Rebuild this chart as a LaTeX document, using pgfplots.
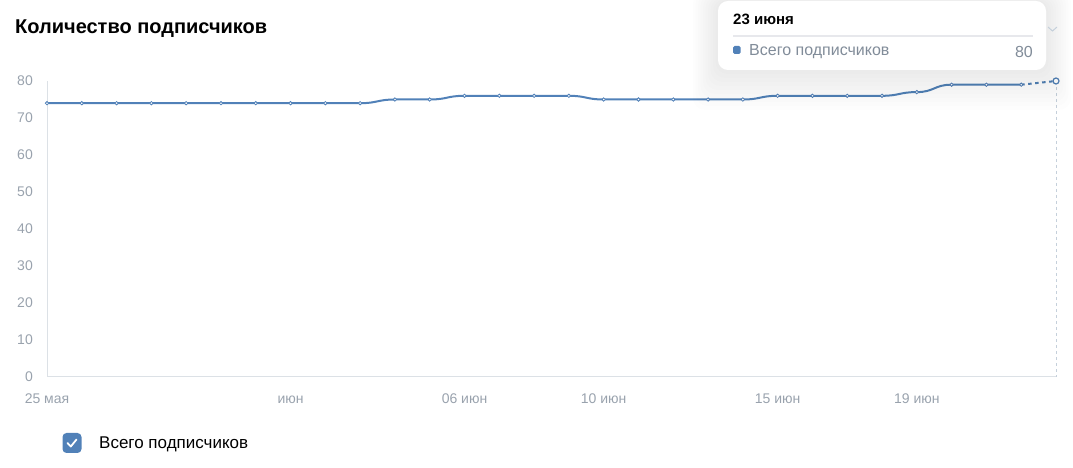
\documentclass[border=0pt]{standalone}
\usepackage{pgfplots}
\pgfplotsset{compat=1.18}
\usepackage{fontspec}
\setmainfont{Liberation Sans}
\definecolor{vkblue}{HTML}{5181B8}
\definecolor{tickgray}{HTML}{99A2AD}
\definecolor{axisgray}{HTML}{DCE1E6}
\definecolor{tipgray}{HTML}{818C99}
\definecolor{sepgray}{HTML}{E7E8EC}
\definecolor{cursorgray}{HTML}{C5D0DB}

\makeatletter
\newif\ifhs@first
\def\hs@point#1{%
  \pgf@process{#1}%
  \edef\hs@x{\the\pgf@x}\edef\hs@y{\the\pgf@y}%
  \ifhs@first
    \pgfpathmoveto{\pgfqpoint{\hs@x}{\hs@y}}%
    \global\hs@firstfalse
  \else
    \edef\hs@half{\the\dimexpr(\hs@x-\hs@lastx)/2\relax}%
    \edef\hs@ca{\the\dimexpr\hs@lastx+\hs@half\relax}%
    \edef\hs@cb{\the\dimexpr\hs@x-\hs@half\relax}%
    \pgfpathcurveto{\pgfqpoint{\hs@ca}{\hs@lasty}}{\pgfqpoint{\hs@cb}{\hs@y}}{\pgfqpoint{\hs@x}{\hs@y}}%
  \fi
  \global\let\hs@lastx\hs@x
  \global\let\hs@lasty\hs@y
}
\pgfdeclareplothandler{\pgfplothandlerhsmooth}{}{%
  start={\global\hs@firsttrue},
  point macro=\hs@point,
  jump={\global\hs@firsttrue},
  end={}%
}
\tikzset{hsmooth/.code={\let\tikz@plot@handler=\pgfplothandlerhsmooth}}
\makeatother

\pgfplotstableread{
day val
0 74
1 74
2 74
3 74
4 74
5 74
6 74
7 74
8 74
9 74
10 75
11 75
12 76
13 76
14 76
15 76
16 75
17 75
18 75
19 75
20 75
21 76
22 76
23 76
24 76
25 77
26 79
27 79
28 79
}\solidtable
\pgfplotstableread{
day val
28 79
29 80
}\dashtable

\begin{document}
\begin{tikzpicture}[x=1pt,y=1pt]
\path[use as bounding box] (0,0) rectangle (1073,468);
% title
\node[anchor=west, inner sep=0pt, font=\fontsize{20}{23}\selectfont\bfseries] at (15,439) {Количество подписчиков};
\begin{axis}[
  at={(47pt,91pt)}, anchor=origin,
  scale only axis, width=1009pt, height=296pt,
  xmin=0, xmax=29, ymin=0, ymax=80,
  clip=false,
  axis x line=bottom, axis y line=left,
  axis line style={-, draw=axisgray, line width=1pt},
  xtick={0,7,12,16,21,25},
  xticklabels={25 мая, июн, 06 июн, 10 июн, 15 июн, 19 июн},
  ytick={0,10,...,80},
  major tick length=0pt,
  tick style={draw=none},
  /pgf/number format/assume math mode=true,
  tick label style={font=\fontsize{14}{16}\selectfont, text=tickgray, inner sep=0pt},
  yticklabel style={anchor=east, xshift=-14pt},
  xticklabel style={anchor=north, yshift=-16pt, text height=10pt, text depth=3pt},
]
\draw[cursorgray, line width=1pt, dash pattern=on 3pt off 3pt] (axis cs:29,80) -- (axis cs:29,0);
\addplot[vkblue, line width=2pt, hsmooth, mark=*, mark size=1.7pt,
  mark options={solid, fill=white, draw=vkblue, line width=0.8pt}]
  table[x=day, y=val] {\solidtable};
\addplot[vkblue, line width=2pt, sharp plot, dash pattern=on 3.5pt off 3.5pt]
  table[x=day, y=val] {\dashtable};
\addplot[only marks, mark=*, mark size=3pt,
  mark options={solid, fill=white, draw=vkblue, line width=1.2pt}]
  coordinates {(29,80)};
\end{axis}
% tooltip shadow
\foreach \i in {1,...,10}{
  \fill[black, opacity=0.008, rounded corners=12pt] (718-\i*2.5,398-\i*4) rectangle (1046+\i*2.5,467+\i*1);
}
% chevron
\draw[cursorgray, line width=1pt] (1048,441) -- (1052.5,437) -- (1057,441);
% tooltip box
\fill[white, rounded corners=10pt] (718,398) rectangle (1046,467);
\node[anchor=west, inner sep=0pt, font=\fontsize{15}{18}\selectfont\bfseries] at (733,449) {23 июня};
\draw[sepgray, line width=1.2pt] (733,432) -- (1033,432);
\fill[vkblue, rounded corners=1.5pt] (733,414) rectangle (740.5,422);
\node[anchor=west, inner sep=0pt, text=tipgray, font=\fontsize{16}{19}\selectfont] at (749,416.5) {Всего подписчиков};
\node[anchor=east, inner sep=0pt, text=tipgray, font=\fontsize{16}{19}\selectfont] at (1033,416.5) {80};
% legend
\fill[vkblue, rounded corners=4pt] (62.5,15) rectangle (81.5,35);
\draw[white, line width=1.8pt, line cap=round, line join=round] (67.5,25) -- (70.8,21.5) -- (76.5,28.5);
\node[anchor=west, inner sep=0pt, font=\fontsize{17}{20}\selectfont] at (99,23.5) {Всего подписчиков};
\end{tikzpicture}
\end{document}
